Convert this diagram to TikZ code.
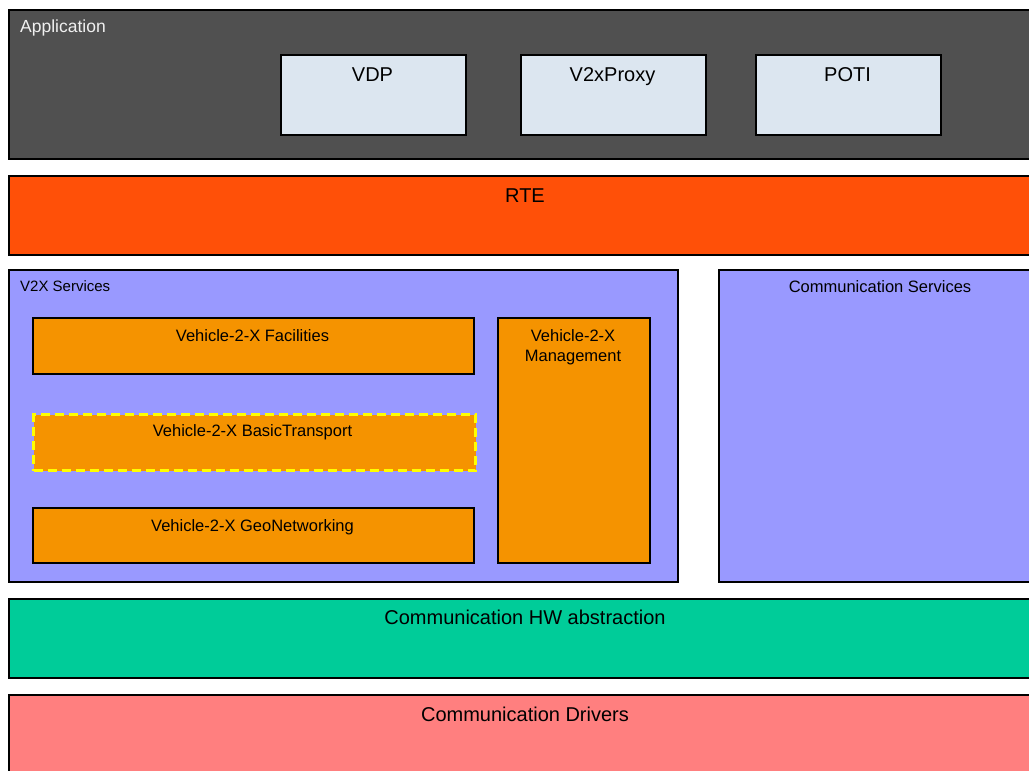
\documentclass[tikz,border=0pt]{standalone}
\usepackage{fontspec}
\setmainfont{Liberation Sans}
\begin{document}
\begin{tikzpicture}[x=1pt,y=-1pt,
  box/.style={draw=black, line width=1.6pt, rectangle, inner sep=0pt, anchor=north west},
  lbl/.style={anchor=base, inner sep=0pt, text=black},
  big/.style={lbl, font=\fontsize{20}{22}\selectfont},
  small/.style={lbl, font=\fontsize{16.5}{20}\selectfont}]
\useasboundingbox (0,0) rectangle (1029,771);
\clip (0,0) rectangle (1029,771);
\definecolor{appgray}{HTML}{505050}
\definecolor{appbox}{HTML}{DCE6F0}
\definecolor{rte}{HTML}{FF5008}
\definecolor{svc}{HTML}{9999FF}
\definecolor{orng}{HTML}{F59300}
\definecolor{hwab}{HTML}{00CC99}
\definecolor{drv}{HTML}{FF7F7F}
\definecolor{dashy}{HTML}{FFFF00}
% Application layer
\node[box, fill=appgray, minimum width=1040pt, minimum height=149pt] (app) at (8,9) {};
\node[lbl, anchor=base west, text=white!94!black, font=\fontsize{17.5}{20}\selectfont] (appT) at (20,32) {Application};
\node[box, fill=appbox, minimum width=185pt, minimum height=80pt] (vdp) at (280,54) {};
\node[big] (vdpT) at (372.5,81) {VDP};
\node[box, fill=appbox, minimum width=185pt, minimum height=80pt] (prx) at (520,54) {};
\node[big] (prxT) at (612.5,81) {V2xProxy};
\node[box, fill=appbox, minimum width=185pt, minimum height=80pt] (poti) at (755,54) {};
\node[big] (potiT) at (847.5,81) {POTI};
% RTE
\node[box, fill=rte, minimum width=1040pt, minimum height=79pt] (rte) at (8,175) {};
\node[big] (rteT) at (525,202) {RTE};
% V2X services
\node[box, fill=svc, minimum width=669pt, minimum height=312pt] (v2x) at (8,269) {};
\node[lbl, anchor=base west, font=\fontsize{15}{18}\selectfont] (v2xT) at (20,291) {V2X Services};
\node[box, fill=orng, minimum width=441pt, minimum height=56pt] (fac) at (32,317) {};
\node[small] (facT) at (252.5,341) {Vehicle-2-X Facilities};
\node[box, draw=dashy, dash pattern=on 9pt off 5pt, line width=3pt, fill=orng, minimum width=442pt, minimum height=56pt] (bt) at (32,413) {};
\node[small] (btT) at (252.5,436) {Vehicle-2-X BasicTransport};
\node[box, fill=orng, minimum width=441pt, minimum height=55pt] (geo) at (32,507) {};
\node[small] (geoT) at (252.5,531) {Vehicle-2-X GeoNetworking};
\node[box, fill=orng, minimum width=152pt, minimum height=245pt] (mgmt) at (497,317) {};
\node[small] (mgmtT1) at (573,341) {Vehicle-2-X};
\node[small] (mgmtT2) at (573,361) {Management};
% Communication services
\node[box, fill=svc, minimum width=330pt, minimum height=312pt] (csv) at (718,269) {};
\node[small] (csvT) at (880,292) {Communication Services};
% HW abstraction
\node[box, fill=hwab, minimum width=1040pt, minimum height=79pt] (hw) at (8,598) {};
\node[big] (hwT) at (525,624) {Communication HW abstraction};
% Drivers
\node[box, fill=drv, minimum width=1040pt, minimum height=100pt] (dr) at (8,694) {};
\node[big] (drT) at (525,721) {Communication Drivers};
\end{tikzpicture}
\end{document}
